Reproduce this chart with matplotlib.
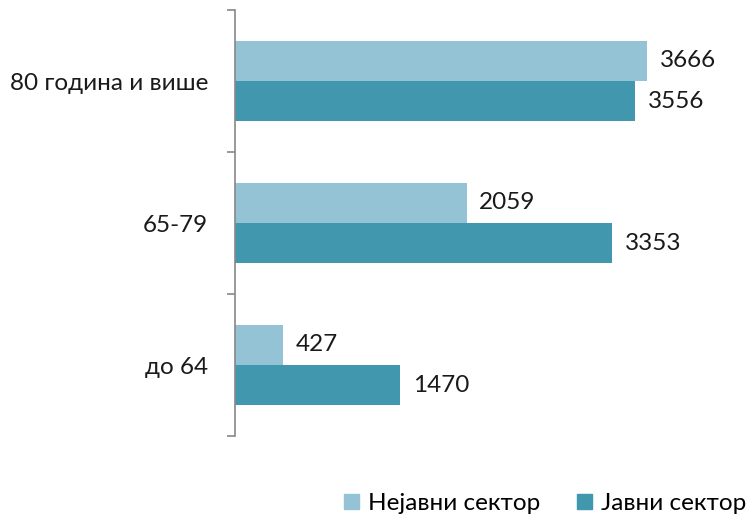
import matplotlib
matplotlib.use("Agg")
import matplotlib.pyplot as plt
from matplotlib.patches import Patch

plt.rcParams['font.family'] = ['Lato', 'Open Sans', 'DejaVu Sans']

categories = ["до 64", "65-79", "80 година и више"]
informal = [427, 2059, 3666]
public = [1470, 3353, 3556]
series_names = ["Нејавни сектор", "Јавни сектор"]
c_light = "#93C3D5"
c_dark = "#4198AE"

FS = 17.5

fig = plt.figure(figsize=(7.52, 5.18), dpi=100)
ax = fig.add_axes([235/752, 1-436/518, (685-235)/752, (436-10)/518])

h = 0.285
y = list(range(len(categories)))
ax.barh([v + h/2 for v in y], informal, height=h, color=c_light)
ax.barh([v - h/2 for v in y], public, height=h, color=c_dark)

for yi, a, b in zip(y, informal, public):
    ax.annotate(str(a), (a, yi + h/2), xytext=(9, 0), textcoords='offset points',
                va='center', ha='left', fontsize=FS, color='#1a1a1a')
    ax.annotate(str(b), (b, yi - h/2), xytext=(9, 0), textcoords='offset points',
                va='center', ha='left', fontsize=FS, color='#1a1a1a')

ax.set_xlim(0, 4000)
ax.set_ylim(-0.5, 2.5)
ax.set_yticks([-0.5, 0.5, 1.5, 2.5])
ax.set_yticklabels([])
ax.set_yticks(y, minor=True)
ax.set_yticklabels(categories, minor=True, fontsize=FS, color='#1a1a1a')
ax.tick_params(axis='y', which='major', length=6, color='#888888', width=1.2, direction='out')
ax.tick_params(axis='y', which='minor', length=0, pad=19.5)
ax.set_xticks([])
for s in ['top', 'right', 'bottom']:
    ax.spines[s].set_visible(False)
ax.spines['left'].set_color('#888888')
ax.spines['left'].set_linewidth(1.2)

handles = [Patch(color=c_light), Patch(color=c_dark)]
fig.legend(handles, series_names, loc='lower right', bbox_to_anchor=(1.022, -0.035), ncol=2,
           frameon=False, fontsize=FS, handlelength=0.6, handleheight=0.6,
           columnspacing=1.5, handletextpad=0.4)

fig.savefig("out.png", dpi=100)
